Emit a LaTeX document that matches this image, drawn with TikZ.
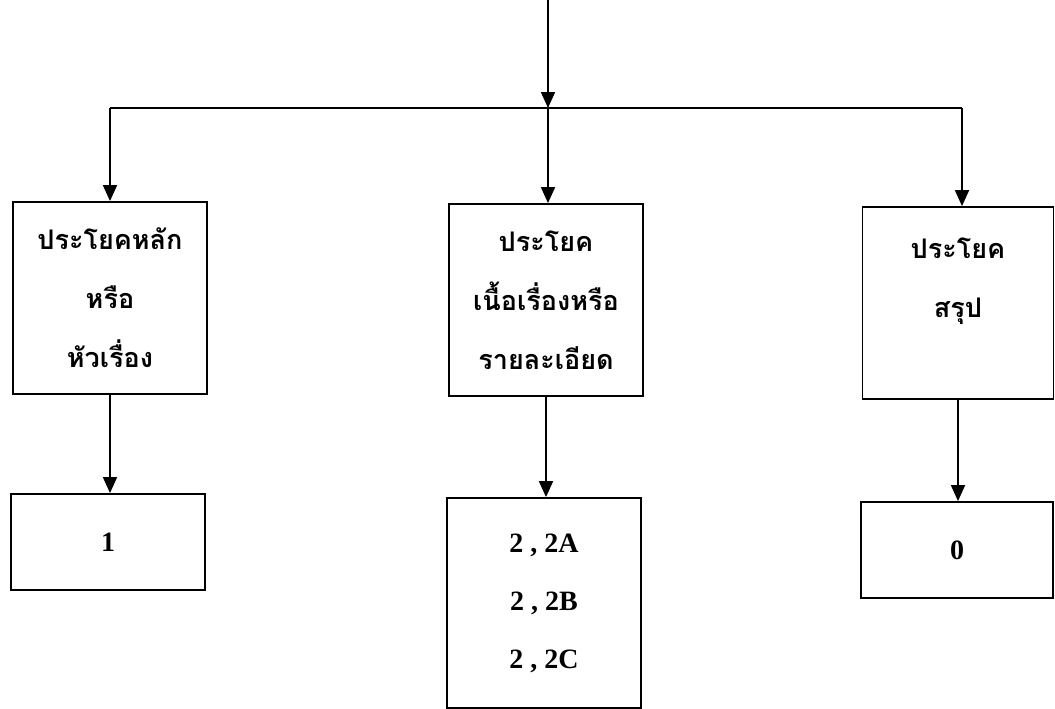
\documentclass[tikz,border=0pt]{standalone}
\usepackage{fontspec}
\setmainfont{Liberation Serif}
\newfontfamily\thaifont[Script=Thai]{Loma}
\usetikzlibrary{arrows.meta}
\begin{document}
\begin{tikzpicture}[x=1pt,y=-1pt,
  conn/.style={line width=1.8pt},
  arr/.style={conn,-{Triangle[width=14pt,length=16pt]}},
  topbox/.style={draw,line width=1.8pt,minimum width=194pt,minimum height=192pt,inner sep=0pt,
    align=center,font=\thaifont\bfseries\fontsize{27pt}{59pt}\selectfont},
  numbox/.style={draw,line width=1.8pt,minimum width=194pt,inner sep=0pt,
    align=center,font=\bfseries\fontsize{28pt}{58pt}\selectfont}]
\useasboundingbox (0,0) rectangle (1055,709);
% top boxes
\node[topbox] (lt) at (110,298) {ประโยคหลัก\\หรือ\\หัวเรื่อง};
\node[topbox] (mt) at (546,300) {ประโยค\\เนื้อเรื่องหรือ\\รายละเอียด};
\node[topbox,minimum width=191pt] (rt) at (958,303) {ประโยค\\สรุป\\[-26pt]\strut};
% bottom boxes
\node[numbox,minimum height=96pt] (lb) at (108,542) {1};
\node[numbox,minimum height=210pt] (mb) at (544,603) {2 , 2A\\2 , 2B\\2 , 2C};
\node[numbox,minimum width=192pt,minimum height=96pt] (rb) at (957,550) {0};
% connectors
\coordinate (src) at (548,0);
\coordinate (j) at (548,108);
\coordinate (jl) at (110,108);
\coordinate (jr) at (962,108);
\draw[arr] (src) -- (j);
\draw[conn] (jl) -- (jr);
\draw[arr] (jl) -- (lt.north);
\draw[arr] (j) -- (j |- mt.north);
\draw[arr] (jr) -- (jr |- rt.north);
\draw[arr] (lt.south) -- (lt.south |- lb.north);
\draw[arr] (mt.south) -- (mt.south |- mb.north);
\draw[arr] (rt.south) -- (rt.south |- rb.north);
\end{tikzpicture}
\end{document}
